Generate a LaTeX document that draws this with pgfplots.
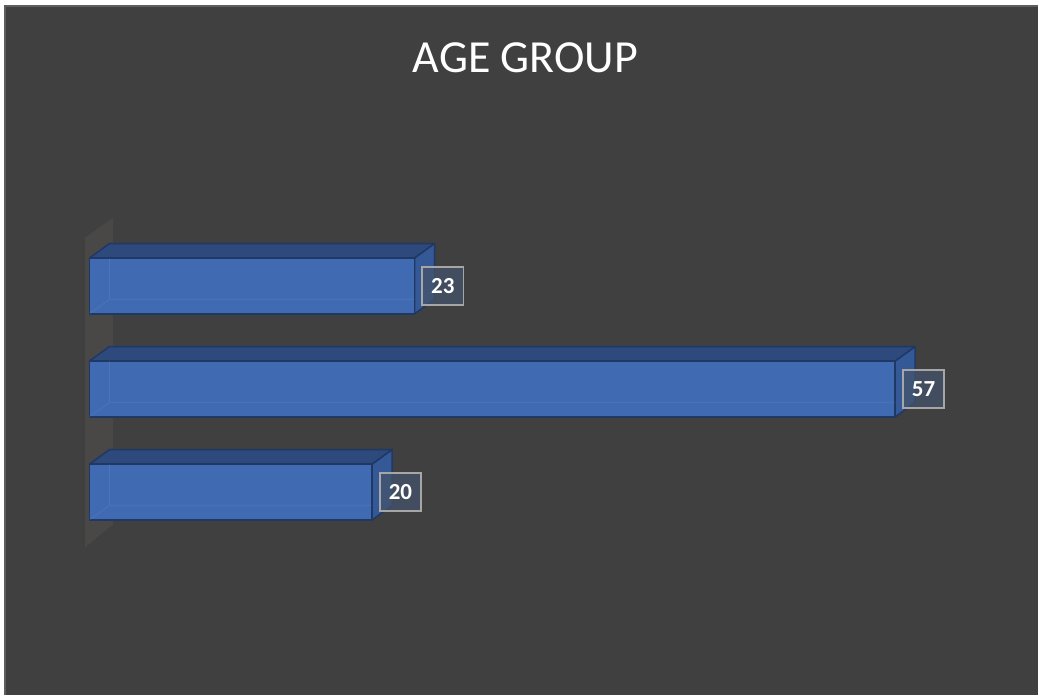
\documentclass[border=0pt]{standalone}
\usepackage{pgfplots}
\pgfplotsset{compat=1.18}
\usepackage{fontspec}
\setmainfont{Carlito}
\definecolor{bg}{HTML}{404040}
\definecolor{bordergray}{HTML}{5E5E5E}
\definecolor{wallc}{HTML}{4A4747}
\definecolor{frontc}{HTML}{406AB2}
\definecolor{topc}{HTML}{2E497C}
\definecolor{sidec}{HTML}{355897}
\definecolor{edgec}{HTML}{1F3864}
\definecolor{lblfill}{HTML}{44546A}
\definecolor{lbldraw}{HTML}{A6A6A6}
\begin{document}
\begin{tikzpicture}
\begin{axis}[
  scale only axis, width=519.5pt, height=348pt,
  xmin=-6.325, xmax=67.10, ymin=-1.973, ymax=4.775,
  axis lines=none, ticks=none, clip=false,
  /pgf/number format/assume math mode=true,
]
% background
\fill[white] (rel axis cs:0,0) rectangle (rel axis cs:1,1);
\fill[bg] (rel axis cs:0.0053,0) rectangle (rel axis cs:1,0.9907);
\draw[bordergray, line width=1pt] (rel axis cs:0.0053,0) -- (rel axis cs:0.0053,0.9907) -- (rel axis cs:1,0.9907);
% title
\node[anchor=base, text=white, font=\fontsize{23}{27}\selectfont] at (rel axis cs:0.5063,0.8955) {AGE GROUP};
% side wall
\addplot[fill=wallc, draw=none] coordinates {(-0.318,-0.538) (-0.318,2.467) (1.661,2.661) (1.661,-0.315)} -- cycle;
% top faces
\addplot[fill=topc, draw=edgec, line width=0.75pt, line join=round] coordinates {(0,0.2705) (20,0.2705) (21.413,0.4111) (1.413,0.4111)} -- cycle;
\addplot[fill=topc, draw=edgec, line width=0.75pt, line join=round] coordinates {(0,1.2705) (57,1.2705) (58.413,1.4111) (1.413,1.4111)} -- cycle;
\addplot[fill=topc, draw=edgec, line width=0.75pt, line join=round] coordinates {(0,2.2705) (23,2.2705) (24.413,2.4111) (1.413,2.4111)} -- cycle;
% side faces
\addplot[fill=sidec, draw=edgec, line width=0.75pt, line join=round] coordinates {(20,-0.2705) (21.413,-0.1299) (21.413,0.4111) (20,0.2705)} -- cycle;
\addplot[fill=sidec, draw=edgec, line width=0.75pt, line join=round] coordinates {(57,0.7295) (58.413,0.8701) (58.413,1.4111) (57,1.2705)} -- cycle;
\addplot[fill=sidec, draw=edgec, line width=0.75pt, line join=round] coordinates {(23,1.7295) (24.413,1.8701) (24.413,2.4111) (23,2.2705)} -- cycle;
% front faces with labels
\addplot[xbar, bar width=0.541, fill=frontc, draw=edgec, line width=0.75pt,
  point meta=x, nodes near coords,
  nodes near coords style={anchor=west, xshift=3.4pt, text=white,
    font=\fontsize{11.5}{13}\selectfont\bfseries,
    minimum width=20.7pt, minimum height=19.2pt, inner sep=0pt,
    draw=lbldraw, line width=0.8pt, fill=lblfill, fill opacity=0.75, text opacity=1}]
  coordinates {(20,0) (57,1) (23,2)};
% faint back edges seen through the front faces
\addplot[draw=white, opacity=0.07, line width=0.6pt] coordinates {(1.413,-0.1299) (1.413,0.2705)};
\addplot[draw=white, opacity=0.07, line width=0.6pt] coordinates {(1.413,0.8701) (1.413,1.2705)};
\addplot[draw=white, opacity=0.07, line width=0.6pt] coordinates {(1.413,1.8701) (1.413,2.2705)};
\addplot[draw=white, opacity=0.05, line width=0.6pt] coordinates {(0,-0.2705) (1.413,-0.1299) (20,-0.1299)};
\addplot[draw=white, opacity=0.05, line width=0.6pt] coordinates {(0,0.7295) (1.413,0.8701) (57,0.8701)};
\addplot[draw=white, opacity=0.05, line width=0.6pt] coordinates {(0,1.7295) (1.413,1.8701) (23,1.8701)};
\end{axis}
\end{tikzpicture}
\end{document}
